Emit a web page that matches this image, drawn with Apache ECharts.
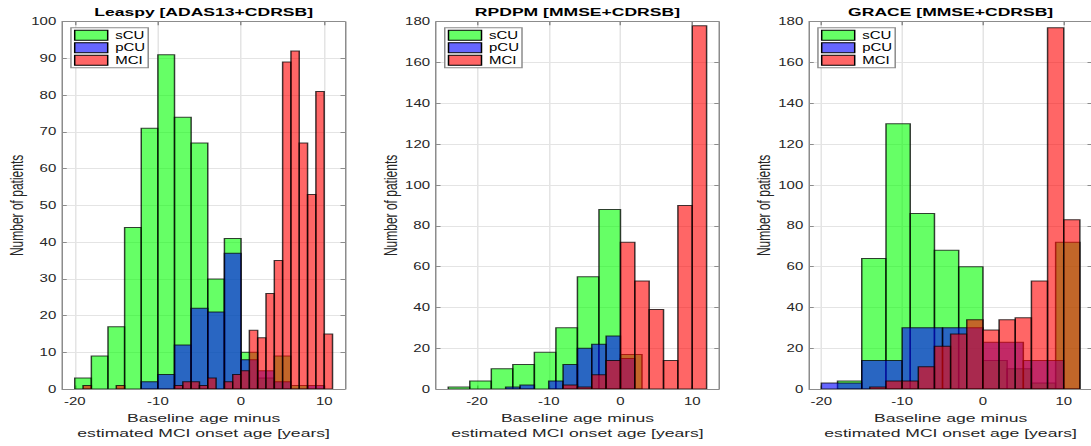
<!DOCTYPE html>
<html>
<head>
<meta charset="utf-8">
<script src="https://cdn.jsdelivr.net/npm/echarts@6/dist/echarts.min.js"></script>
<style>
  html, body { margin: 0; padding: 0; background: #fff; overflow: hidden; }
  /* the figure is drawn 1.5x narrower and stretched, like the original export */
  #chart { width: 728px; height: 446px; transform: scaleX(1.5); transform-origin: 0 0; }
</style>
</head>
<body>
<div id="chart"></div>
<script>
// ---------- data ----------
const xTicks = [-20, -10, 0, 10];
const seriesNames = ['sCU', 'pCU', 'MCI'];

// Leaspy [ADAS13+CDRSB]
const leaspySCUEdges = [-20, -18, -16, -14, -12, -10, -8, -6, -4, -2, 0, 2, 4, 6, 8];
const leaspySCU = [3, 9, 17, 44, 71, 91, 74, 67, 30, 41, 10, 3, 9, 1];
const leaspyPCUEdges = [-12, -10, -8, -6, -4, -2, 0, 2, 4, 6, 8, 10];
const leaspyPCU = [2, 4, 12, 22, 21, 37, 8, 5, 2, 0, 1];
const leaspyMCIEdges = [-19, -18, -17, -16, -15, -14, -13, -12, -11, -10, -9, -8, -7, -6, -5, -4,
  -3, -2, -1, 0, 1, 2, 3, 4, 5, 6, 7, 8, 9, 10, 11];
const leaspyMCI = [1, 0, 0, 0, 1, 0, 0, 0, 0, 0, 0, 1, 2, 2, 1, 3,
  0, 2, 4, 5, 16, 14, 26, 35, 89, 92, 67, 53, 81, 15];

// RPDPM [MMSE+CDRSB]
const rpdpmSCUEdges = [-24, -21, -18, -15, -12, -9, -6, -3, 0, 3];
const rpdpmSCU = [1, 4, 10, 12, 18, 30, 55, 88, 17];
const rpdpmPCUEdges = [-16, -14, -12, -10, -8, -6, -4, -2, 0, 2];
const rpdpmPCU = [1, 2, 0, 4, 12, 20, 22, 26, 15];
const rpdpmMCIEdges = [-8, -6, -4, -2, 0, 2, 4, 6, 8, 10, 12];
const rpdpmMCI = [2, 1, 7, 14, 72, 53, 39, 14, 90, 178];

// GRACE [MMSE+CDRSB]
const graceSCUEdges = [-18, -15, -12, -9, -6, -3, 0, 3, 6, 9, 12];
const graceSCU = [4, 64, 130, 86, 68, 60, 14, 10, 3, 72];
const gracePCUEdges = [-20, -15, -10, -5, 0, 5, 10];
const gracePCU = [3, 14, 30, 30, 23, 14];
const graceMCIEdges = [-14, -12, -10, -8, -6, -4, -2, 0, 2, 4, 6, 8, 10, 12];
const graceMCI = [1, 4, 4, 11, 21, 27, 34, 29, 34, 35, 53, 177, 83];

// ---------- layout / style ----------
const font = 'Liberation Sans, Arial, Helvetica, sans-serif';
const axisColor = '#8c8c8c';
const textColor = '#262626';
const gridColor = '#e4e4e4';
const colors = ['rgba(0,255,0,0.6)', 'rgba(0,0,255,0.6)', 'rgba(255,0,0,0.6)'];
const plotTop = 21.7, plotHeight = 370.3, plotWidth = 188.5;

const panels = [
  { title: 'Leaspy [ADAS13+CDRSB]', left: 41.5, xMin: -21.5, xMax: 12.5, yMax: 100, yStep: 10,
    hist: [[leaspySCUEdges, leaspySCU], [leaspyPCUEdges, leaspyPCU], [leaspyMCIEdges, leaspyMCI]] },
  { title: 'RPDPM [MMSE+CDRSB]', left: 290.7, xMin: -25.7, xMax: 13.7, yMax: 180, yStep: 20,
    hist: [[rpdpmSCUEdges, rpdpmSCU], [rpdpmPCUEdges, rpdpmPCU], [rpdpmMCIEdges, rpdpmMCI]] },
  { title: 'GRACE [MMSE+CDRSB]', left: 539.5, xMin: -21.5, xMax: 13.5, yMax: 180, yStep: 20,
    hist: [[graceSCUEdges, graceSCU], [gracePCUEdges, gracePCU], [graceMCIEdges, graceMCI]] }
];

function toBins(edges, counts) {
  return counts.map((c, i) => [edges[i], edges[i + 1], c]).filter(d => d[2] > 0);
}

function renderBin(params, api) {
  const p0 = api.coord([api.value(0), 0]);
  const p1 = api.coord([api.value(1), api.value(2)]);
  return {
    type: 'rect',
    shape: { x: p0[0], y: p1[1], width: p1[0] - p0[0], height: p0[1] - p1[1] },
    style: { fill: api.visual('color'), stroke: 'rgba(0,0,0,0.75)', lineWidth: 1 }
  };
}

const option = {
  animation: false,
  backgroundColor: '#fff',
  textStyle: { fontFamily: font },
  title: [], grid: [], xAxis: [], yAxis: [], legend: [], series: []
};

panels.forEach((p, i) => {
  const lineStyle = { color: axisColor, width: 1 };
  option.title.push({
    text: p.title, left: p.left + plotWidth / 2, top: 6.5, padding: 0, textAlign: 'center',
    textStyle: { fontSize: 11.7, fontWeight: 'bold', color: '#000', fontFamily: font }
  });
  option.grid.push({ left: p.left, top: plotTop, width: plotWidth, height: plotHeight, containLabel: false });
  option.xAxis.push({
    gridIndex: i, type: 'value', min: p.xMin, max: p.xMax, position: 'bottom',
    axisLine: { show: true, onZero: false, lineStyle },
    axisTick: { show: true, inside: true, length: 3.5, customValues: xTicks, lineStyle },
    axisLabel: { customValues: xTicks, margin: 7, fontSize: 10, color: textColor, fontFamily: font },
    splitLine: { show: true, lineStyle: { color: gridColor } },
    name: 'Baseline age minus\nestimated MCI onset age [years]', nameLocation: 'middle', nameGap: 19,
    nameTextStyle: { fontSize: 11.7, lineHeight: 15, color: textColor, fontFamily: font }
  }, {
    gridIndex: i, type: 'value', min: p.xMin, max: p.xMax, position: 'top',
    axisLine: { show: true, onZero: false, lineStyle },
    axisTick: { show: true, inside: true, length: 3.5, customValues: xTicks, lineStyle },
    axisLabel: { show: false }, splitLine: { show: false }
  });
  option.yAxis.push({
    gridIndex: i, type: 'value', min: 0, max: p.yMax, interval: p.yStep, position: 'left',
    axisLine: { show: true, onZero: false, lineStyle },
    axisTick: { show: true, inside: true, length: 3, lineStyle },
    axisLabel: { margin: 4, fontSize: 10, color: textColor, fontFamily: font },
    splitLine: { show: true, lineStyle: { color: gridColor } },
    name: 'Number of patients', nameLocation: 'middle', nameGap: 24,
    nameTextStyle: { fontSize: 12, color: textColor, fontFamily: font }
  }, {
    gridIndex: i, type: 'value', min: 0, max: p.yMax, interval: p.yStep, position: 'right',
    axisLine: { show: true, onZero: false, lineStyle },
    axisTick: { show: true, inside: true, length: 3, lineStyle },
    axisLabel: { show: false }, splitLine: { show: false }
  });
  option.legend.push({
    data: seriesNames, orient: 'vertical', left: p.left + 5.8, top: 27.7,
    icon: 'rect', itemWidth: 22, itemHeight: 10, itemGap: 1.5, padding: [2, 2, 2, 2],
    borderColor: axisColor, borderWidth: 1, backgroundColor: '#fff',
    itemStyle: { borderColor: '#000', borderWidth: 1 },
    textStyle: { fontSize: 10, color: '#000', fontFamily: font },
    selectedMode: false
  });
  p.hist.forEach((h, k) => {
    option.series.push({
      type: 'custom', name: seriesNames[k], xAxisIndex: 2 * i, yAxisIndex: 2 * i,
      data: toBins(h[0], h[1]), encode: { x: [0, 1], y: 2 },
      itemStyle: { color: colors[k], borderColor: '#000', borderWidth: 1 },
      renderItem: renderBin, clip: true, silent: true
    });
  });
});

const chart = echarts.init(document.getElementById('chart'), null, { renderer: 'svg' });
chart.setOption(option);
</script>
</body>
</html>
